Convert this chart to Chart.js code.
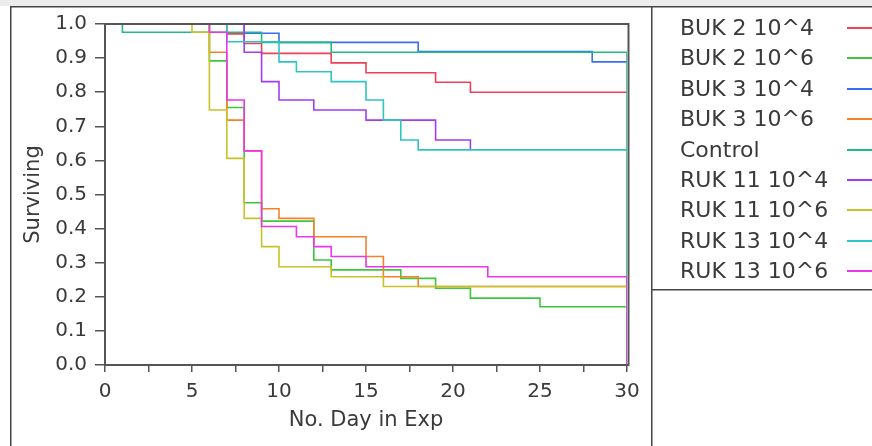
<!DOCTYPE html>
<html>
<head>
<meta charset="utf-8">
<script src="https://cdn.jsdelivr.net/npm/chart.js@4.4.0/dist/chart.umd.min.js"></script>
<style>
body { margin: 0; background: #fff; font-family: "DejaVu Sans", sans-serif; }
#wrap { position: relative; width: 872px; height: 446px; overflow: hidden; }
#grafico { position: absolute; left: 0; top: 0; }
#legenda { position: absolute; left: 680px; top: 13px; }
.item { position: relative; height: 30.4px; line-height: 30.4px; font-size: 22px; color: #3a3a3a; white-space: nowrap; }
.amostra { position: absolute; left: 167px; top: 14px; width: 30px; height: 2px; }
</style>
</head>
<body>
<div id="wrap">
  <canvas id="grafico" width="872" height="446"></canvas>
  <div id="legenda"></div>
</div>
<script>
var nomes = ['BUK 2 10^4', 'BUK 2 10^6', 'BUK 3 10^4', 'BUK 3 10^6', 'Control',
             'RUK 11 10^4', 'RUK 11 10^6', 'RUK 13 10^4', 'RUK 13 10^6'];

// days of each step, survival after the step
var diasBuk2e4  = [0, 7, 8, 9, 13, 15, 19, 21, 30];
var survBuk2e4  = [1, 0.971, 0.943, 0.914, 0.886, 0.857, 0.829, 0.800, 0.800];
var diasBuk2e6  = [0, 6, 7, 8, 9, 12, 13, 17, 19, 21, 25, 30];
var survBuk2e6  = [1, 0.892, 0.755, 0.476, 0.422, 0.308, 0.279, 0.254, 0.225, 0.196, 0.171, 0.171];
var diasBuk3e4  = [0, 8, 10, 18, 28, 30];
var survBuk3e4  = [1, 0.973, 0.946, 0.919, 0.889, 0.889];
var diasBuk3e6  = [0, 6, 7, 8, 9, 10, 12, 15, 16, 18, 30];
var survBuk3e6  = [1, 0.917, 0.718, 0.628, 0.458, 0.430, 0.376, 0.318, 0.259, 0.230, 0.230];
var diasControl = [0, 1, 9, 13, 30, 30];
var survControl = [1, 0.976, 0.946, 0.917, 0.917, 0];
var diasRuk11e4 = [0, 8, 9, 10, 12, 15, 19, 21];
var survRuk11e4 = [1, 0.917, 0.831, 0.777, 0.748, 0.718, 0.660, 0.631];
var diasRuk11e6 = [0, 5, 6, 7, 8, 9, 10, 13, 16, 30];
var survRuk11e6 = [1, 0.976, 0.748, 0.606, 0.430, 0.347, 0.288, 0.259, 0.230, 0.230];
var diasRuk13e4 = [0, 7, 10, 11, 13, 15, 16, 17, 18, 30];
var survRuk13e4 = [1, 0.948, 0.889, 0.860, 0.831, 0.777, 0.718, 0.660, 0.631, 0.631];
var diasRuk13e6 = [0, 6, 7, 8, 9, 11, 12, 13, 15, 22, 30, 30];
var survRuk13e6 = [1, 0.976, 0.777, 0.628, 0.406, 0.376, 0.347, 0.318, 0.288, 0.259, 0.259, 0];

var dias = [diasBuk2e4, diasBuk2e6, diasBuk3e4, diasBuk3e6, diasControl, diasRuk11e4, diasRuk11e6, diasRuk13e4, diasRuk13e6];
var surv = [survBuk2e4, survBuk2e6, survBuk3e4, survBuk3e6, survControl, survRuk11e4, survRuk11e6, survRuk13e4, survRuk13e6];

var cores = ['#ef4056', '#3cc83c', '#3a6ef0', '#f5822a', '#1fba88', '#a23cf0', '#c8c228', '#2ec4c4', '#ea36ea'];

function montarPontos(x, y) {
    var pts = [];
    for (var i = 0; i < x.length; i++) pts.push({ x: x[i], y: y[i] });
    return pts;
}

var datasets = [];
for (var i = 0; i < nomes.length; i++) {
    datasets.push({
        label: nomes[i],
        data: montarPontos(dias[i], surv[i]),
        borderColor: cores[i],
        backgroundColor: cores[i],
        borderWidth: 1.6,
        pointRadius: 0,
        stepped: true,
        fill: false,
        order: nomes.length - i
    });
}

// legend in html
var legenda = document.getElementById('legenda');
for (var i = 0; i < nomes.length; i++) {
    var item = document.createElement('div');
    item.className = 'item';
    item.innerHTML = '<span>' + nomes[i] + '</span><div class="amostra" style="background:' + cores[i] + '"></div>';
    legenda.appendChild(item);
}

var moldura = {
    id: 'moldura',
    beforeDraw: function (chart) {
        var ctx = chart.ctx;
        ctx.save();
        ctx.fillStyle = '#ececec';
        ctx.fillRect(0, 0, 872, 6);
        ctx.fillStyle = '#444';
        ctx.fillRect(10, 6, 862, 1.5);
        ctx.fillRect(10, 6, 1.5, 440);
        ctx.fillRect(651, 6, 1.5, 440);
        ctx.fillRect(651, 289, 221, 1.5);
        ctx.restore();
    },
    afterDatasetsDraw: function (chart) {
        var a = chart.chartArea;
        var ctx = chart.ctx;
        ctx.save();
        ctx.strokeStyle = '#555';
        ctx.lineWidth = 2;
        ctx.beginPath();
        ctx.moveTo(a.left, a.bottom);
        ctx.lineTo(a.left, a.top);
        ctx.lineTo(a.right + 1.5, a.top);
        ctx.lineTo(a.right + 1.5, a.bottom);
        ctx.lineTo(a.left, a.bottom);
        ctx.stroke();
        ctx.restore();
    }
};

new Chart(document.getElementById('grafico'), {
    type: 'line',
    data: { datasets: datasets },
    plugins: [moldura],
    options: {
        responsive: false,
        animation: false,
        devicePixelRatio: 1,
        layout: { padding: { left: 10, top: 24, right: 245, bottom: 0 } },
        plugins: {
            legend: { display: false },
            tooltip: { enabled: false }
        },
        scales: {
            x: {
                type: 'linear',
                min: 0,
                max: 30,
                border: { display: false },
                grid: { drawOnChartArea: false, tickLength: 7, color: '#555', lineWidth: 1.5 },
                ticks: {
                    stepSize: 2.5,
                    autoSkip: false,
                    maxRotation: 0,
                    padding: 8,
                    color: '#3a3a3a',
                    font: { family: 'DejaVu Sans', size: 20 },
                    callback: function (v) { return v % 5 === 0 ? v : ''; }
                },
                title: {
                    display: true,
                    text: 'No. Day in Exp',
                    color: '#3a3a3a',
                    font: { family: 'DejaVu Sans', size: 21 },
                    padding: { top: 0, bottom: 13 }
                },
                afterFit: function (s) { s.height = 81; }
            },
            y: {
                min: 0,
                max: 1,
                border: { display: false },
                grid: { drawOnChartArea: false, tickLength: 10, color: '#555', lineWidth: 1.5 },
                ticks: {
                    stepSize: 0.1,
                    padding: 8,
                    color: '#3a3a3a',
                    font: { family: 'DejaVu Sans', size: 20 },
                    callback: function (v) { return v.toFixed(1); }
                },
                title: {
                    display: true,
                    text: 'Surviving',
                    color: '#3a3a3a',
                    font: { family: 'DejaVu Sans', size: 21 },
                    padding: { top: 11, bottom: 0 }
                },
                afterFit: function (s) { s.width = 95; }
            }
        }
    }
});
</script>
</body>
</html>
